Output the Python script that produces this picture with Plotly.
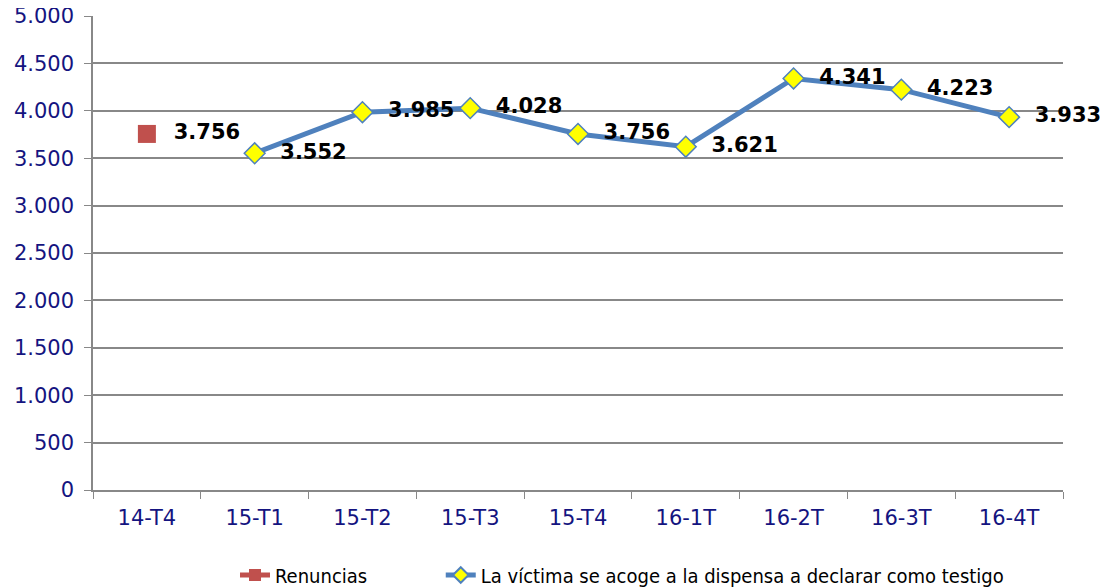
import plotly.graph_objects as go

categories = ["14-T4", "15-T1", "15-T2", "15-T3", "15-T4", "16-1T", "16-2T", "16-3T", "16-4T"]
renuncias = [3756, None, None, None, None, None, None, None, None]
dispensa = [None, 3552, 3985, 4028, 3756, 3621, 4341, 4223, 3933]
y_ticks = [0, 500, 1000, 1500, 2000, 2500, 3000, 3500, 4000, 4500, 5000]
y_tick_text = ["0", "500", "1.000", "1.500", "2.000", "2.500", "3.000", "3.500", "4.000", "4.500", "5.000"]
series_names = ["Renuncias", "La víctima se acoge a la dispensa a declarar como testigo"]

def fmt(v):
    return "" if v is None else "  " + f"{v:,}".replace(",", ".")

label_font = dict(family="DejaVu Sans", size=21, color="black", weight="bold")
tick_font = dict(family="DejaVu Sans", size=21, color="#141480")

fig = go.Figure()
fig.add_trace(go.Scatter(
    x=categories, y=renuncias, name=series_names[0] + "\u00a0" * 12,
    mode="lines+markers+text",
    line=dict(color="#C0504D", width=5),
    marker=dict(symbol="square", size=18, color="#C0504D"),
    text=[fmt(v) for v in renuncias], textposition="middle right",
    textfont=label_font, cliponaxis=False,
))
fig.add_trace(go.Scatter(
    x=categories, y=dispensa, name=series_names[1],
    mode="lines+markers+text",
    line=dict(color="#4F81BD", width=5),
    marker=dict(symbol="diamond", size=16, color="#FFFF00", line=dict(color="#4F81BD", width=1.5)),
    text=[fmt(v) for v in dispensa], textposition="middle right",
    textfont=label_font, cliponaxis=False,
    connectgaps=False,
))

# page body has an 8px margin, so the figure origin sits at (8, 8)
fig.update_layout(
    width=1100, height=580,
    margin=dict(l=85, r=45, t=8, b=98, autoexpand=False),
    plot_bgcolor="white", paper_bgcolor="white",
    showlegend=True,
    legend=dict(orientation="h", x=(227 - 85) / 970, xanchor="left",
                yref="container", y=1 - 567 / 580, yanchor="middle",
                font=dict(family="DejaVu Sans Condensed", size=20, color="black"),
                itemsizing="constant"),
)
fig.update_xaxes(
    type="category", tickson="boundaries", ticks="outside", ticklen=7, tickcolor="#888",
    showline=True, linecolor="#888", linewidth=1.5, showgrid=False,
    tickfont=tick_font, range=[-0.5, 8.5], ticklabelstandoff=8,
)
fig.update_yaxes(
    range=[0, 5000], tickvals=y_ticks, ticktext=y_tick_text,
    ticks="outside", ticklen=7, tickcolor="#888",
    showline=True, linecolor="#888", linewidth=1.5,
    showgrid=True, gridcolor="#888", gridwidth=1.5, zeroline=False,
    tickfont=tick_font, ticklabelstandoff=6, ticklabeloverflow="allow",
)
fig.write_html("out.html")
